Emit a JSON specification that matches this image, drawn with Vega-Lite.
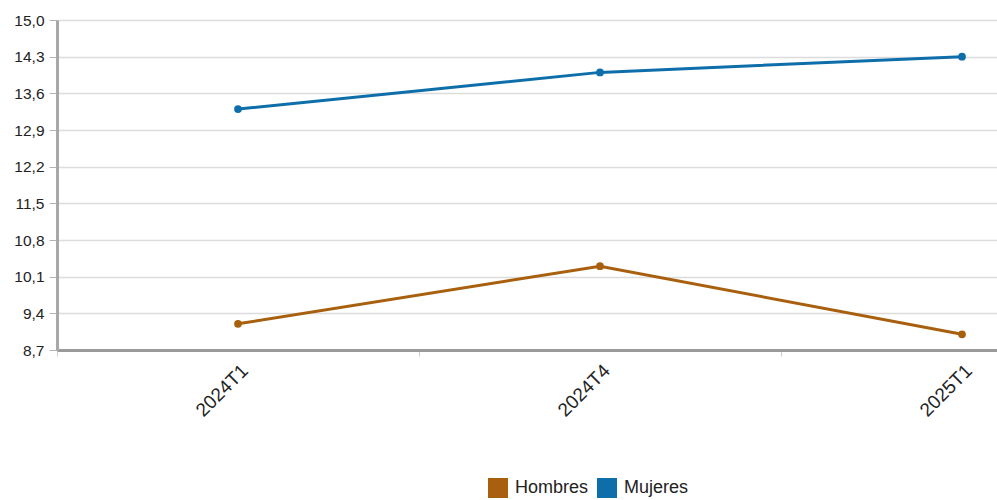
{
  "$schema": "https://vega.github.io/schema/vega-lite/v6.json",
  "width": 1086,
  "height": 330,
  "autosize": {"type": "none"},
  "padding": {"left": 57, "top": 20, "right": -146, "bottom": 150},
  "background": "white",
  "config": {
    "font": "Liberation Sans",
    "view": {"stroke": null}
  },
  "data": {
    "values": [
      {"periodo": "2024T1", "sexo": "Hombres", "valor": 9.2},
      {"periodo": "2024T4", "sexo": "Hombres", "valor": 10.3},
      {"periodo": "2025T1", "sexo": "Hombres", "valor": 9.0},
      {"periodo": "2024T1", "sexo": "Mujeres", "valor": 13.3},
      {"periodo": "2024T4", "sexo": "Mujeres", "valor": 14.0},
      {"periodo": "2025T1", "sexo": "Mujeres", "valor": 14.3}
    ]
  },
  "encoding": {
    "x": {
      "field": "periodo",
      "type": "nominal",
      "sort": ["2024T1", "2024T4", "2025T1"],
      "scale": {"type": "band", "paddingInner": 0, "paddingOuter": 0},
      "axis": {
        "title": null,
        "labelAngle": -45,
        "labelFontSize": 19,
        "labelColor": "#222",
        "labelPadding": 5,
        "tickBand": "extent",
        "tickColor": "#ccc",
        "tickSize": 6,
        "domainColor": "#9a9a9a",
        "domainWidth": 3,
        "grid": false
      }
    },
    "y": {
      "field": "valor",
      "type": "quantitative",
      "scale": {"domain": [8.7, 15.0], "nice": false, "zero": false},
      "axis": {
        "title": null,
        "values": [8.7, 9.4, 10.1, 10.8, 11.5, 12.2, 12.9, 13.6, 14.3, 15.0],
        "labelExpr": "replace(format(datum.value, '.1f'), '.', ',')",
        "labelFontSize": 15.5,
        "labelColor": "#222",
        "labelPadding": 5,
        "tickColor": "#b5b5b5",
        "tickSize": 8,
        "domainColor": "#a8a8a8",
        "domainWidth": 3,
        "gridColor": "#dcdcdc",
        "gridWidth": 1.5
      }
    },
    "color": {
      "field": "sexo",
      "type": "nominal",
      "scale": {"domain": ["Hombres", "Mujeres"], "range": ["#A8600E", "#0E6EAA"]},
      "legend": {
        "title": null,
        "orient": "none",
        "direction": "horizontal",
        "legendX": 431,
        "legendY": 458,
        "symbolType": "square",
        "symbolSize": 400,
        "symbolStrokeWidth": 0,
        "symbolOpacity": 1,
        "labelFontSize": 18,
        "labelColor": "#222",
        "columnPadding": 8,
        "labelOffset": 7
      }
    }
  },
  "layer": [
    {"mark": {"type": "line", "strokeWidth": 3}},
    {"mark": {"type": "point", "filled": true, "size": 60, "opacity": 1}}
  ]
}
